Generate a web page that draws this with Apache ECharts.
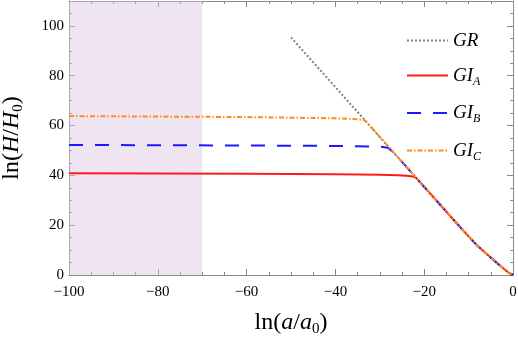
<!DOCTYPE html>
<html>
<head>
<meta charset="utf-8">
<script src="https://cdn.jsdelivr.net/npm/echarts@6/dist/echarts.min.js"></script>
<style>
  html, body { margin: 0; padding: 0; background: #fff; }
  #chart { width: 518px; height: 344px; }
</style>
</head>
<body>
<div id="chart"></div>
<script>
  // values
  var grX = [-50, -45, -40, -35, -30, -25, -22, -20, -18, -16, -14, -12, -10, -8, -6, -4, -2, -1, 0];
  var grY = [95.4, 85.4, 75.4, 65.4, 55.4, 45.4, 39.4, 35.4, 31.4, 27.4, 23.4, 19.4, 15.5, 11.7, 8.5, 5.4, 2.4, 0.95, 0];

  var giAX = [-100, -80, -60, -40, -30, -26, -24, -23, -22.3, -21.8, -21];
  var giAY = [40.8, 40.7, 40.6, 40.4, 40.2, 40.0, 39.8, 39.6, 39.4, 39.0, 37.4];

  var giBX = [-100, -80, -60, -40, -32, -30, -29, -28.2, -27.8, -27];
  var giBY = [52.2, 52.1, 52.0, 51.8, 51.6, 51.5, 51.3, 51.1, 50.9, 49.4];

  var giCX = [-100, -80, -60, -40, -36, -35, -34, -33.4, -32];
  var giCY = [63.8, 63.6, 63.4, 62.9, 62.6, 62.5, 62.3, 62.1, 59.4];

  var shadeRange = [-100, -70];
  var xTicks = [-100, -80, -60, -40, -20, 0];
  var yTicks = [0, 20, 40, 60, 80, 100];

  // flat part of a GI curve, then the GR track after it
  function track(xs, ys) {
    var pts = xs.map(function (x, i) { return [x, ys[i]]; });
    var last = xs[xs.length - 1];
    grX.forEach(function (x, i) {
      if (x > last) pts.push([x, grY[i]]);
    });
    return pts;
  }

  var serif = 'Liberation Serif';
  var frame = '#8a8a8a';

  var nameRich = {
    n: { fontFamily: serif, fontSize: 24, color: '#000', lineHeight: 28 },
    i: { fontFamily: serif, fontSize: 24, fontStyle: 'italic', color: '#000', lineHeight: 28 },
    s: { fontFamily: serif, fontSize: 15, color: '#000', verticalAlign: 'bottom', lineHeight: 15 }
  };
  var legRich = {
    i: { fontFamily: serif, fontSize: 19, fontStyle: 'italic', color: '#000', lineHeight: 24 },
    s: { fontFamily: serif, fontSize: 12, fontStyle: 'italic', color: '#000', verticalAlign: 'bottom', lineHeight: 12 }
  };

  function xAx(pos, labels) {
    return {
      type: 'value', position: pos, min: -100, max: 0, interval: 20,
      axisLine: { onZero: false, lineStyle: { color: frame, width: 1 } },
      axisTick: { inside: true, length: 6, lineStyle: { color: frame } },
      minorTick: { show: true, splitNumber: 4, length: 3, lineStyle: { color: frame } },
      splitLine: { show: false },
      axisLabel: {
        show: labels, margin: 10, fontFamily: serif, fontSize: 15, color: '#000',
        customValues: xTicks,
        formatter: function (v) { return v < 0 ? '\u2212' + (-v) : '' + v; }
      }
    };
  }
  function yAx(pos, labels) {
    return {
      type: 'value', position: pos, min: 0, max: 110, interval: 20,
      axisLine: { onZero: false, lineStyle: { color: frame, width: 1 } },
      axisTick: { inside: true, length: 6, lineStyle: { color: frame } },
      minorTick: { show: true, splitNumber: 4, length: 3, lineStyle: { color: frame } },
      splitLine: { show: false },
      axisLabel: {
        show: labels, margin: 5, fontFamily: serif, fontSize: 15, color: '#000',
        customValues: yTicks
      }
    };
  }

  var myChart = echarts.init(document.getElementById('chart'));

  var xBottom = xAx('bottom', true);
  xBottom.name = '{n|ln(}{i|a}{n|/}{i|a}{s|0}{n|)}';
  xBottom.nameLocation = 'middle';
  xBottom.nameGap = 34;
  xBottom.nameTextStyle = { rich: nameRich };

  var yLeft = yAx('left', true);
  yLeft.name = '{n|ln(}{i|H}{n|/}{i|H}{s|0}{n|)}';
  yLeft.nameLocation = 'middle';
  yLeft.nameGap = 43;
  yLeft.nameRotate = 90;
  yLeft.nameTextStyle = { rich: nameRich };

  var option = {
    animation: false,
    grid: { left: 69, right: 5, top: 1, bottom: 69, containLabel: false, outerBoundsMode: 'none' },
    legend: {
      orient: 'vertical', left: 401, top: 26,
      itemWidth: 41, itemHeight: 14, itemGap: 16,
      itemStyle: { opacity: 0 },
      textStyle: { rich: legRich },
      formatter: function (name) {
        if (name === 'GR') return '{i|GR}';
        return '{i|GI}{s|' + name.slice(2) + '}';
      },
      data: ['GR', 'GIA', 'GIB', 'GIC']
    },
    xAxis: [xBottom, xAx('top', false)],
    yAxis: [yLeft, yAx('right', false)],
    series: [
      {
        name: 'GR', type: 'line', symbol: 'none', z: 2,
        data: grX.map(function (x, i) { return [x, grY[i]]; }),
        lineStyle: { color: '#7f7f7f', width: 2, type: [2, 2] },
        itemStyle: { color: '#7f7f7f' },
        markArea: {
          silent: true,
          itemStyle: { color: 'rgba(220,195,225,0.45)' },
          data: [[{ xAxis: shadeRange[0] }, { xAxis: shadeRange[1] }]]
        }
      },
      {
        name: 'GIA', type: 'line', symbol: 'none', z: 3,
        data: track(giAX, giAY),
        lineStyle: { color: '#ff1a1a', width: 2 },
        itemStyle: { color: '#ff1a1a' }
      },
      {
        name: 'GIB', type: 'line', symbol: 'none', z: 4,
        data: track(giBX, giBY),
        lineStyle: { color: '#1a1aff', width: 2, type: [14, 12] },
        itemStyle: { color: '#1a1aff' }
      },
      {
        name: 'GIC', type: 'line', symbol: 'none', z: 5,
        data: track(giCX, giCY),
        lineStyle: { color: '#ff8c1a', width: 2, type: [5, 2, 1.5, 2] },
        itemStyle: { color: '#ff8c1a' }
      }
    ]
  };
  myChart.setOption(option);
</script>
</body>
</html>
